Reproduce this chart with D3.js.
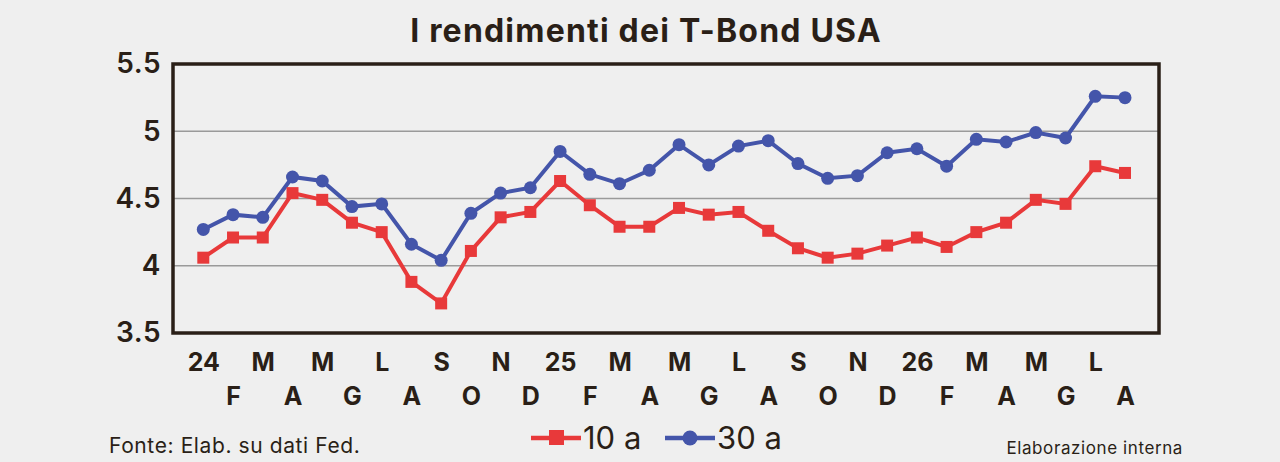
<!DOCTYPE html>
<html>
<head>
<meta charset="utf-8">
<script src="https://cdn.jsdelivr.net/npm/d3@7"></script>
<style>
  body { margin: 0; background: #efefef; }
  svg { display: block; font-family: Inter, "Open Sans", sans-serif; }
</style>
</head>
<body>
<div id="chart"></div>
<script>
// months Jan 2024 .. Aug 2026
const months = ['24', 'F', 'M', 'A', 'M', 'G', 'L', 'A', 'S', 'O', 'N', 'D',
                '25', 'F', 'M', 'A', 'M', 'G', 'L', 'A', 'S', 'O', 'N', 'D',
                '26', 'F', 'M', 'A', 'M', 'G', 'L', 'A'];

const yield10 = [4.06, 4.21, 4.21, 4.54, 4.49, 4.32, 4.25, 3.88, 3.72, 4.11, 4.36, 4.40,
                 4.63, 4.45, 4.29, 4.29, 4.43, 4.38, 4.40, 4.26, 4.13, 4.06, 4.09, 4.15,
                 4.21, 4.14, 4.25, 4.32, 4.49, 4.46, 4.74, 4.69];

const yield30 = [4.27, 4.38, 4.36, 4.66, 4.63, 4.44, 4.46, 4.16, 4.04, 4.39, 4.54, 4.58,
                 4.85, 4.68, 4.61, 4.71, 4.90, 4.75, 4.89, 4.93, 4.76, 4.65, 4.67, 4.84,
                 4.87, 4.74, 4.94, 4.92, 4.99, 4.95, 5.26, 5.25];

const yTicks = [3.5, 4, 4.5, 5, 5.5];

const W = 1280, H = 462;
const ink = '#2a1f17';
const red = '#e8393a';
const blue = '#4455aa';

const svg = d3.select('#chart')
  .append('svg')
    .attr('width', W)
    .attr('height', H);

const frame = { left: 173, right: 1159, top: 64, bottom: 333 };

// first point sits 30px in from the left frame
const x = d3.scaleLinear()
  .domain([0, months.length - 1])
  .range([203.3, 1125]);

const y = d3.scaleLinear()
  .domain([3.5, 5.5])
  .range([frame.bottom, frame.top]);

// title
svg.append('text')
  .attr('x', 646)
  .attr('y', 42)
  .attr('text-anchor', 'middle')
  .style('font-size', '32px')
  .style('font-weight', 700)
  .style('letter-spacing', '1.2px')
  .style('fill', ink)
  .text('I rendimenti dei T-Bond USA');

// grid lines
svg.append('g')
  .selectAll('line')
  .data(yTicks.filter(d => d > 3.5 && d < 5.5))
  .enter()
  .append('line')
    .attr('x1', frame.left)
    .attr('x2', frame.right)
    .attr('y1', d => y(d))
    .attr('y2', d => y(d))
    .style('stroke', '#9a9a9a')
    .style('stroke-width', 1.5);

// y axis labels
const yAxis = svg.append('g')
  .attr('transform', 'translate(' + (frame.left - 12) + ',0)')
  .call(d3.axisLeft(y).tickValues(yTicks).tickSize(0).tickPadding(0)
        .tickFormat(d => String(d)));
yAxis.select('.domain').remove();
yAxis.selectAll('text')
  .style('font-family', 'Inter, sans-serif')
  .style('font-size', '28px')
  .style('font-weight', 600)
  .style('letter-spacing', '0.5px')
  .style('fill', ink);

// x axis labels, two staggered rows
const xAxis = svg.append('g')
  .attr('transform', 'translate(0,' + frame.bottom + ')')
  .call(d3.axisBottom(x).tickValues(d3.range(months.length)).tickSize(0)
        .tickFormat(i => months[i]));
xAxis.select('.domain').remove();
xAxis.selectAll('text')
  .attr('y', (d, i) => i % 2 === 0 ? 38 : 72)
  .attr('dy', 0)
  .style('font-family', 'Inter, sans-serif')
  .style('font-size', '25px')
  .style('font-weight', 700)
  .style('fill', ink);

// plot frame
svg.append('rect')
  .attr('x', frame.left)
  .attr('y', frame.top)
  .attr('width', frame.right - frame.left)
  .attr('height', frame.bottom - frame.top)
  .style('fill', 'none')
  .style('stroke', ink)
  .style('stroke-width', 3.5);

const line = d3.line()
  .x((d, i) => x(i))
  .y(d => y(d));

// 30 anni
svg.append('path')
  .datum(yield30)
  .attr('d', line)
  .style('fill', 'none')
  .style('stroke', blue)
  .style('stroke-width', 4);

svg.append('g')
  .selectAll('circle')
  .data(yield30)
  .enter()
  .append('circle')
    .attr('cx', (d, i) => x(i))
    .attr('cy', d => y(d))
    .attr('r', 6.5)
    .style('fill', blue);

// 10 anni
svg.append('path')
  .datum(yield10)
  .attr('d', line)
  .style('fill', 'none')
  .style('stroke', red)
  .style('stroke-width', 4);

svg.append('g')
  .selectAll('rect')
  .data(yield10)
  .enter()
  .append('rect')
    .attr('x', (d, i) => x(i) - 6)
    .attr('y', d => y(d) - 6)
    .attr('width', 12)
    .attr('height', 12)
    .style('fill', red);

// legend
const legendData = [
  { label: '10 a', color: red, shape: 'square', x: 531 },
  { label: '30 a', color: blue, shape: 'circle', x: 665 }
];

const legendItems = svg.append('g')
  .selectAll('g')
  .data(legendData)
  .enter()
  .append('g')
    .attr('transform', d => 'translate(' + d.x + ',438)');

legendItems.append('line')
  .attr('x1', 0)
  .attr('x2', 50)
  .style('stroke', d => d.color)
  .style('stroke-width', 4.5);

legendItems.filter(d => d.shape === 'square')
  .append('rect')
    .attr('x', 18)
    .attr('y', -8)
    .attr('width', 15)
    .attr('height', 15)
    .style('fill', d => d.color);

legendItems.filter(d => d.shape === 'circle')
  .append('circle')
    .attr('cx', 25)
    .attr('r', 7.5)
    .style('fill', d => d.color);

legendItems.append('text')
  .attr('x', 52)
  .attr('y', 11)
  .style('font-size', '31px')
  .style('fill', ink)
  .text(d => d.label);

// source notes
svg.append('text')
  .attr('x', 109)
  .attr('y', 453)
  .style('font-size', '21px')
  .style('letter-spacing', '0.6px')
  .style('fill', ink)
  .text('Fonte: Elab. su dati Fed.');

svg.append('text')
  .attr('x', 1183)
  .attr('y', 454)
  .attr('text-anchor', 'end')
  .style('font-size', '17px')
  .style('letter-spacing', '0.6px')
  .style('fill', ink)
  .text('Elaborazione interna');
</script>
</body>
</html>
